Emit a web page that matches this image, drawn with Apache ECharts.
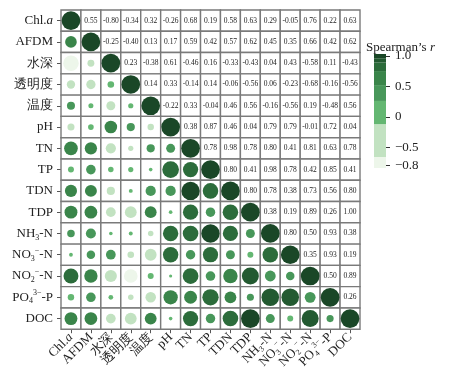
<!DOCTYPE html>
<html><head><meta charset="utf-8">
<script src="https://cdn.jsdelivr.net/npm/echarts@6/dist/echarts.min.js"></script>
<style>html,body{margin:0;padding:0;background:#fff}#c{width:455px;height:372px}</style>
</head><body><div id="c"></div>
<script>
// ---- data ----
const variables = ['Chl.a','AFDM','水深','透明度','温度','pH','TN','TP','TDN','TDP','NH3-N','NO3-N','NO2-N','PO4-P','DOC'];
// upper triangle rows (values for columns after the diagonal)
const rowChla  = [0.55,-0.80,-0.34,0.32,-0.26,0.68,0.19,0.58,0.63,0.29,-0.05,0.76,0.22,0.63];
const rowAFDM  = [-0.25,-0.40,0.13,0.17,0.59,0.42,0.57,0.62,0.45,0.35,0.66,0.42,0.62];
const rowDepth = [0.23,-0.38,0.61,-0.46,0.16,-0.33,-0.43,0.04,0.43,-0.58,0.11,-0.43];
const rowSD    = [0.14,0.33,-0.14,0.14,-0.06,-0.56,0.06,-0.23,-0.68,-0.16,-0.56];
const rowTemp  = [-0.22,0.33,-0.04,0.46,0.56,-0.16,-0.56,0.19,-0.48,0.56];
const rowPH    = [0.38,0.87,0.46,0.04,0.79,0.79,-0.01,0.72,0.04];
const rowTN    = [0.78,0.98,0.78,0.80,0.41,0.81,0.63,0.78];
const rowTP    = [0.80,0.41,0.98,0.78,0.42,0.85,0.41];
const rowTDN   = [0.80,0.78,0.38,0.73,0.56,0.80];
const rowTDP   = [0.38,0.19,0.89,0.26,1.00];
const rowNH3   = [0.80,0.50,0.93,0.38];
const rowNO3   = [0.35,0.93,0.19];
const rowNO2   = [0.50,0.89];
const rowPO4   = [0.26];
const upperRows = [rowChla,rowAFDM,rowDepth,rowSD,rowTemp,rowPH,rowTN,rowTP,rowTDN,rowTDP,rowNH3,rowNO3,rowNO2,rowPO4,[]];
// colour bands
const bandBounds = [-0.84,-0.66,-0.12,0.26,0.52,0.75,0.89,0.96,1.03];
const bandColors = ['#edf6ea','#c2e2c1','#64b772','#48975a','#3a854a','#2c6c3b','#235a31','#1a4727'];
const legendTicks = [1.0,0.5,0,-0.5,-0.8];

// ---- build ----
const n = variables.length;
const M = [];
for (let i=0;i<n;i++){ M.push(new Array(n).fill(0)); M[i][i]=1; }
for (let i=0;i<n;i++){ upperRows[i].forEach((v,k)=>{ const j=i+1+k; M[i][j]=v; M[j][i]=v; }); }
const cells=[], circles=[], texts=[];
for (let i=0;i<n;i++) for (let j=0;j<n;j++){
  cells.push([j,i]);
  if (j<=i) circles.push([j,i,M[i][j]]); else texts.push([j,i,M[i][j]]);
}
const pieces = bandColors.map((c,k)=>({gte:bandBounds[k], lt:bandBounds[k+1], color:c}));
const bands = bandColors.map((c,k)=>[0,bandBounds[k],bandBounds[k+1],k]);

const serif = '"Liberation Serif","Times New Roman",serif';
const richMap = {
  'Chl.a':'{n|Chl.}{i|a}','NH3-N':'{n|NH}{sub|3}{n|-N}','NO3-N':'{n|NO}{sub|3}{sup|−}{n|-N}',
  'NO2-N':'{n|NO}{sub|2}{sup|−}{n|-N}','PO4-P':'{n|PO}{sub|4}{sup|3−}{n|-P}'
};
const rich = {
  n:{fontFamily:serif,fontSize:13,color:'#222',lineHeight:16,verticalAlign:'middle'},
  i:{fontFamily:serif,fontSize:13,color:'#222',fontStyle:'italic',lineHeight:16,verticalAlign:'middle'},
  sub:{fontFamily:serif,fontSize:8,color:'#222',lineHeight:8,verticalAlign:'bottom'},
  sup:{fontFamily:serif,fontSize:8,color:'#222',lineHeight:8,verticalAlign:'top'}
};
const fmt = v => richMap[v] || ('{n|'+v+'}');

const chart = echarts.init(document.getElementById('c'));
chart.setOption({
  animation:false,
  title:{text:'{a|Spearman\u2019s }{i|r}',left:361,top:36,
    textStyle:{fontWeight:'normal',rich:{a:{fontFamily:serif,fontSize:13,fontWeight:'normal',color:'#222'},
      i:{fontFamily:serif,fontSize:13,fontWeight:'normal',fontStyle:'italic',color:'#222'}}}},
  grid:[{left:61,top:10,width:299,height:320},{left:374,top:54,width:12,height:114}],
  xAxis:[
    {gridIndex:0,type:'category',data:variables,boundaryGap:true,
     axisLine:{show:false},axisTick:{show:true,alignWithLabel:true,length:4,lineStyle:{color:'#555'}},
     axisLabel:{rotate:45,margin:6,interval:0,formatter:fmt,rich:rich},splitLine:{show:false}},
    {gridIndex:1,type:'category',data:['c'],show:false}
  ],
  yAxis:[
    {gridIndex:0,type:'category',data:variables,inverse:true,boundaryGap:true,
     axisLine:{show:false},axisTick:{show:true,alignWithLabel:true,length:4,lineStyle:{color:'#555'}},
     axisLabel:{margin:8,interval:0,formatter:fmt,rich:rich},splitLine:{show:false}},
    {gridIndex:1,type:'value',min:-0.84,max:1.03,position:'right',
     axisLine:{show:false},splitLine:{show:false},
     axisTick:{show:true,length:4,customValues:legendTicks,lineStyle:{color:'#333'}},
     axisLabel:{customValues:legendTicks,margin:9,fontFamily:serif,fontSize:13,color:'#222',
       formatter:v=>{const s=(Math.abs(v)<1e-9)?'0':Math.abs(v).toFixed(1);return (v<-1e-9?'\u2212':'')+s;}}}
  ],
  visualMap:{show:false,type:'piecewise',dimension:2,seriesIndex:1,pieces:pieces},
  series:[
    {type:'custom',xAxisIndex:0,yAxisIndex:0,data:cells,z:1,
     renderItem:(params,api)=>{
       const c=api.coord([api.value(0),api.value(1)]); const s=api.size([1,1]);
       return {type:'rect',shape:{x:c[0]-s[0]/2,y:c[1]-s[1]/2,width:s[0],height:s[1]},
         style:{fill:'#fff',stroke:'#7a7a7a',lineWidth:1.4}};
     }},
    {type:'scatter',xAxisIndex:0,yAxisIndex:0,data:circles,z:3,itemStyle:{opacity:1},
     emphasis:{disabled:true},symbolSize:v=>3+15.7*Math.abs(v[2])},
    {type:'custom',xAxisIndex:0,yAxisIndex:0,data:texts,z:4,
     renderItem:(params,api)=>{
       const c=api.coord([api.value(0),api.value(1)]); const v=api.value(2);
       return {type:'text',x:c[0],y:c[1],style:{text:v.toFixed(2),align:'center',verticalAlign:'middle',
         font:'7.5px '+serif,fill:'#222'}};
     }},
    {type:'custom',xAxisIndex:1,yAxisIndex:1,data:bands,encode:{x:0,y:[1,2]},
     renderItem:(params,api)=>{
       const top=api.coord([0,api.value(2)]), bot=api.coord([0,api.value(1)]); const w=api.size([1,0])[0];
       return {type:'rect',shape:{x:top[0]-w/2,y:top[1],width:w,height:bot[1]-top[1]},
         style:{fill:bandColors[api.value(3)]}};
     }}
  ]
});
</script></body></html>
